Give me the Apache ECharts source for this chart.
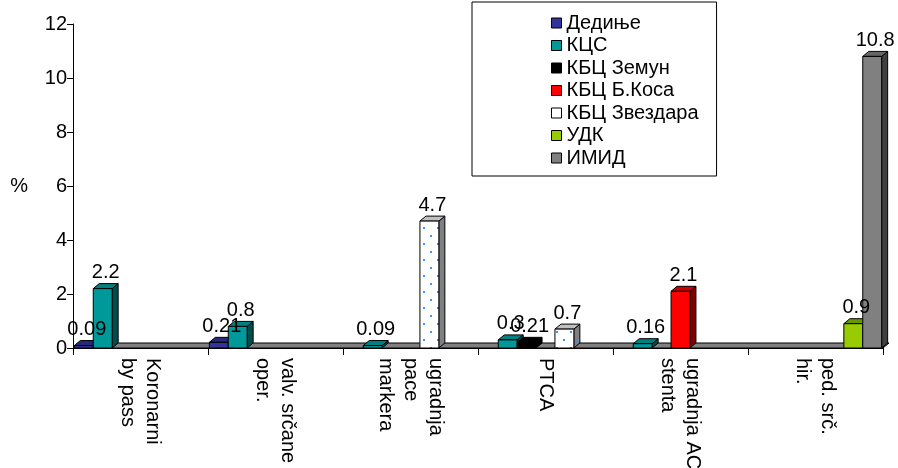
<!DOCTYPE html>
<html>
<head>
<meta charset="utf-8">
<script src="https://cdn.jsdelivr.net/npm/echarts@6/dist/echarts.min.js"></script>
<style>
html, body { margin: 0; padding: 0; background: #fff; }
#chart { width: 898px; height: 468px; }
</style>
</head>
<body>
<div id="chart"></div>
<script>
// data
var categories = ['Koronarni\nby pass', 'valv. srčane\noper.', 'ugradnja\npace\nmarkera', 'PTCA', 'ugradnja AC\nstenta', 'ped. srč.\nhir.'];
var seriesNames = ['Дедиње', 'КЦС', 'КБЦ Земун', 'КБЦ Б.Коса', 'КБЦ Звездара', 'УДК', 'ИМИД'];
var dedinje  = [0.09, 0.21, null, null, null, null];
var kcs      = [2.2, 0.8, 0.09, 0.3, 0.16, null];
var zemun    = [null, null, null, 0.21, null, null];
var bkosa    = [null, null, null, null, 2.1, null];
var zvezdara = [null, null, 4.7, 0.7, null, null];
var udk      = [null, null, null, null, null, 0.9];
var imid     = [null, null, null, null, null, 10.8];
var yMin = 0, yMax = 12, yStep = 2;

var allValues = [dedinje, kcs, zemun, bkosa, zvezdara, udk, imid];

var DX = 6, DY = 5;   // fake 3d depth
var FONT = '"Liberation Sans", Arial, sans-serif';
var FS = 20;

function dotPattern(bg) {
    var c = document.createElement('canvas');
    c.width = 14; c.height = 16;
    var g = c.getContext('2d');
    g.fillStyle = bg;
    g.fillRect(0, 0, 14, 16);
    g.fillStyle = '#3399ff';
    g.fillRect(3, 3, 2, 2);
    g.fillRect(10, 11, 2, 2);
    return {image: c, repeat: 'repeat'};
}

var styles = [
    {legend: '#333399', face: '#333399', top: '#29297a', side: '#1a1a4d'},
    {legend: '#009999', face: '#009999', top: '#008080', side: '#004d4d'},
    {legend: '#000000', face: '#000000', top: '#000000', side: '#000000'},
    {legend: '#ff0000', face: '#ff0000', top: '#cc0000', side: '#800000'},
    {legend: '#ffffff', face: dotPattern('#ffffff'), top: '#c0c0c0', side: dotPattern('#808080')},
    {legend: '#99cc00', face: '#99cc00', top: '#669900', side: '#4d6600'},
    {legend: '#808080', face: '#808080', top: '#666666', side: '#404040'}
];

// where bar i of a category sits
function barBox(api, cat, v, idx) {
    var band = api.size([1, 0])[0];
    var slot = band * 0.98 / seriesNames.length;
    var base = api.coord([cat, 0]);
    var top = api.coord([cat, v]);
    var x0 = base[0] - band / 2 + band * 0.01 + idx * slot;
    return {x0: x0, x1: x0 + slot, y0: base[1], y1: top[1]};
}

function makeBarRender(idx) {
    return function(params, api) {
        var b = barBox(api, api.value(0), api.value(1), idx);
        var st = styles[idx];
        var line = {stroke: '#000', lineWidth: 1};
        return {
            type: 'group',
            children: [
                {type: 'polygon', shape: {points: [[b.x1, b.y0], [b.x1 + DX, b.y0 - DY], [b.x1 + DX, b.y1 - DY], [b.x1, b.y1]]},
                 style: Object.assign({fill: st.side}, line)},
                {type: 'polygon', shape: {points: [[b.x0, b.y1], [b.x1, b.y1], [b.x1 + DX, b.y1 - DY], [b.x0 + DX, b.y1 - DY]]},
                 style: Object.assign({fill: st.top}, line)},
                {type: 'rect', shape: {x: b.x0, y: b.y1, width: b.x1 - b.x0, height: b.y0 - b.y1},
                 style: Object.assign({fill: st.face}, line)}
            ]
        };
    };
}

function labelRender(params, api) {
    var v = api.value(1);
    var b = barBox(api, api.value(0), v, api.value(2));
    return {
        type: 'text',
        style: {text: String(v), x: (b.x0 + b.x1) / 2 + DX / 2, y: b.y1 - DY - 1,
                align: 'center', verticalAlign: 'bottom', font: FS + 'px ' + FONT, fill: '#000'}
    };
}

function floorRender(params, api) {
    var cs = params.coordSys;
    var y0 = api.coord([0, 0])[1];
    return {
        type: 'polygon',
        shape: {points: [[cs.x, y0], [cs.x + cs.width, y0], [cs.x + cs.width + DX, y0 - DY], [cs.x + DX, y0 - DY]]},
        style: {fill: '#808080', stroke: '#000', lineWidth: 1}
    };
}

var series = [{
    type: 'custom',
    name: 'floor',
    silent: true,
    z: 1,
    renderItem: floorRender,
    data: [[0, 0]]
}];

var labelData = [];
seriesNames.forEach(function(name, i) {
    var data = [];
    allValues[i].forEach(function(v, c) {
        if (v != null) {
            data.push([c, v]);
            labelData.push([c, v, i]);
        }
    });
    series.push({
        type: 'custom',
        name: name,
        z: 2,
        itemStyle: {color: styles[i].legend},
        encode: {x: 0, y: 1},
        renderItem: makeBarRender(i),
        data: data
    });
});

series.push({
    type: 'custom',
    name: 'labels',
    silent: true,
    z: 5,
    encode: {x: 0, y: 1},
    renderItem: labelRender,
    data: labelData
});

var chart = echarts.init(document.getElementById('chart'));
chart.setOption({
    animation: false,
    backgroundColor: '#fff',
    grid: {left: 73, right: 15, top: 24, bottom: 120, outerBoundsMode: 'none'},
    legend: {
        data: seriesNames,
        orient: 'vertical',
        left: 472,
        top: 2,
        padding: [11, 18, 8, 79],
        itemGap: 2.5,
        itemWidth: 10,
        itemHeight: 10,
        icon: 'rect',
        borderColor: '#000',
        borderWidth: 1,
        itemStyle: {borderColor: '#000', borderWidth: 1},
        textStyle: {fontFamily: FONT, fontSize: FS, lineHeight: 20, color: '#000'}
    },
    xAxis: {
        type: 'category',
        data: categories,
        axisLine: {lineStyle: {color: '#000'}},
        axisTick: {show: true, length: 7, interval: 0, lineStyle: {color: '#000'}},
        axisLabel: {rotate: -90, interval: 0, margin: 10, lineHeight: 25,
                    fontFamily: FONT, fontSize: FS, color: '#000'},
        splitLine: {show: false}
    },
    yAxis: {
        type: 'value',
        min: yMin,
        max: yMax,
        interval: yStep,
        name: '%',
        nameLocation: 'middle',
        nameRotate: 0,
        nameGap: 45,
        nameTextStyle: {fontFamily: FONT, fontSize: FS, color: '#000'},
        axisLine: {show: true, lineStyle: {color: '#000'}},
        axisTick: {show: true, length: 6, lineStyle: {color: '#000'}},
        axisLabel: {margin: 6, fontFamily: FONT, fontSize: FS, color: '#000'},
        splitLine: {show: false}
    },
    series: series
});
</script>
</body>
</html>
